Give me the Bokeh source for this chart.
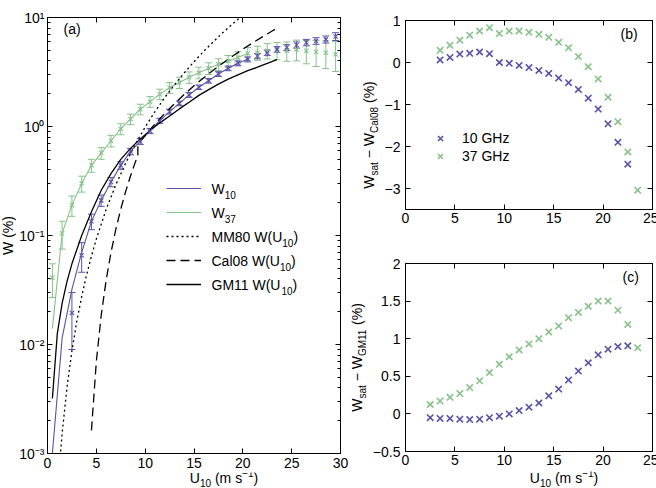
import math
from bokeh.plotting import figure
from bokeh.layouts import row, column
from bokeh.models import (ColumnDataSource, Whisker, TeeHead, Label, Legend, LegendItem,
                          FixedTicker, LinearAxis, LogAxis, Range1d)
from bokeh.embed import file_html
from bokeh.resources import INLINE

# ---------------- data ----------------
# panel (a): binned whitecap fraction W (%) vs U10
w10_x = [2.5, 3.5, 4.5, 5.5, 6.5, 7.5, 8.5, 9.5, 10.5, 11.5, 12.5, 13.5, 14.5, 15.5,
         16.5, 17.5, 18.5, 19.5, 20.5, 21.5, 22.5, 23.5, 24.5, 25.5, 26.5, 27.5, 28.5, 29.5]
w10_y = [0.0195, 0.066, 0.135, 0.21, 0.31, 0.44, 0.59, 0.73, 0.91, 1.13, 1.37, 1.63, 1.95, 2.29,
         2.63, 3.03, 3.42, 3.8, 4.13, 4.43, 4.75, 5.1, 5.3, 5.6, 5.9, 6.1, 6.3, 6.7]
w10_err = [0.0105, 0.02, 0.022, 0.025, 0.03, 0.035, 0.04, 0.045, 0.05, 0.06, 0.07, 0.08, 0.1, 0.11,
           0.13, 0.15, 0.17, 0.2, 0.22, 0.25, 0.28, 0.3, 0.33, 0.36, 0.4, 0.43, 0.47, 0.55]

w37_x = [0.5, 1.5, 2.5, 3.5, 4.5, 5.5, 6.5, 7.5, 8.5, 9.5, 10.5, 11.5, 12.5, 13.5, 14.5,
         15.5, 16.5, 17.5, 18.5, 19.5, 20.5, 21.5, 22.5, 23.5, 24.5, 25.5, 26.5, 27.5, 28.5, 29.5]
w37_y = [0.041, 0.105, 0.19, 0.3, 0.44, 0.57, 0.74, 0.95, 1.17, 1.44, 1.69, 1.98, 2.27, 2.53, 2.83,
         3.12, 3.42, 3.72, 3.98, 4.3, 4.68, 4.75, 4.96, 5.0, 4.96, 5.1, 4.96, 4.85, 4.75, 4.6]
w37_err = [0.014, 0.03, 0.04, 0.05, 0.06, 0.07, 0.09, 0.11, 0.13, 0.16, 0.19, 0.22, 0.26, 0.3, 0.34,
           0.38, 0.42, 0.46, 0.5, 0.55, 0.62, 0.7, 0.8, 0.9, 1.0, 1.1, 1.2, 1.3, 1.35, 1.4]

w10_line_x = [0.5, 1.5, 2.5, 3.5, 4.5, 5.5, 6.5, 7.5, 8.5, 9.5, 10.5, 11.5, 12.5, 13.5, 14.5,
              15.5, 16.5, 17.5, 18.5, 19.5, 20.5]
w10_line_y = [0.001, 0.0115, 0.032, 0.07, 0.135, 0.21, 0.31, 0.44, 0.59, 0.73, 0.91, 1.13, 1.37,
              1.63, 1.95, 2.29, 2.63, 3.03, 3.42, 3.8, 4.13]
w37_line_x = [0.5, 1.5, 2.5, 3.5, 4.5, 5.5, 6.5, 7.5, 8.5, 9.5, 10.5, 11.5, 12.5, 13.5, 14.5,
              15.5, 16.5, 17.5, 18.5, 19.5, 20.5]
w37_line_y = [0.014, 0.105, 0.19, 0.3, 0.44, 0.57, 0.74, 0.95, 1.17, 1.44, 1.69, 1.98, 2.27, 2.53,
              2.83, 3.12, 3.42, 3.72, 3.98, 4.3, 4.68]

mm80_x = [1.3, 1.5, 2, 2.5, 3, 3.5, 4, 4.5, 5, 6, 7, 8, 9, 10, 11, 12, 13, 14, 15, 16, 17, 18, 19, 20]
mm80_y = [0.00094, 0.00153, 0.00408, 0.00874, 0.0163, 0.0275, 0.0434, 0.0648, 0.0929, 0.173,
          0.292, 0.461, 0.690, 0.987, 1.367, 1.839, 2.413, 3.105, 3.93, 4.90, 6.02, 7.33, 8.80, 10.49]

cal08_x = [4.5, 5, 5.5, 6, 6.5, 7, 7.5, 8, 8.5, 9, 9.25, 9.25, 10, 11, 12, 13, 14, 15, 16, 17,
           18, 19, 20, 21, 22, 23, 23.5]
cal08_y = [0.00163, 0.00699, 0.01855, 0.0387, 0.0698, 0.1143, 0.1745, 0.2528, 0.3517, 0.4734,
           0.544, 0.683, 0.829, 1.054, 1.317, 1.620, 1.967, 2.360, 2.802, 3.296, 3.844, 4.451,
           5.118, 5.849, 6.647, 7.513, 7.973]

gm11_x = [0.5, 1.0, 1.5, 2.0, 2.5, 3.5, 4.5, 5.5, 6.5, 7.5, 8.5, 9.5, 10.5, 11.5, 12.5, 13.5,
          14.5, 15.5, 16.5, 17.5, 18.5, 19.5, 20.5, 21.5, 22.5, 23.5]
gm11_y = [0.0032, 0.0125, 0.024, 0.038, 0.055, 0.1, 0.165, 0.26, 0.37, 0.5, 0.63, 0.77, 0.92,
          1.08, 1.25, 1.45, 1.67, 1.93, 2.18, 2.45, 2.72, 2.98, 3.25, 3.5, 3.8, 4.1]

# panel (b): W_sat - W_Cal08
b10_x = [3.5, 4.5, 5.5, 6.5, 7.5, 8.5, 9.5, 10.5, 11.5, 12.5, 13.5, 14.5, 15.5, 16.5, 17.5,
         18.5, 19.5, 20.5, 21.5, 22.5]
b10_y = [0.06, 0.12, 0.2, 0.22, 0.25, 0.21, 0.0, -0.02, -0.07, -0.12, -0.19, -0.26, -0.37,
         -0.48, -0.64, -0.85, -1.11, -1.46, -1.9, -2.42]
b37_x = [3.5, 4.5, 5.5, 6.5, 7.5, 8.5, 9.5, 10.5, 11.5, 12.5, 13.5, 14.5, 15.5, 16.5, 17.5,
         18.5, 19.5, 20.5, 21.5, 22.5, 23.5]
b37_y = [0.29, 0.41, 0.53, 0.65, 0.75, 0.83, 0.69, 0.75, 0.75, 0.72, 0.67, 0.6, 0.48, 0.35,
         0.14, -0.1, -0.39, -0.83, -1.41, -2.13, -3.04]

# panel (c): W_sat - W_GM11
c10_x = [2.5, 3.5, 4.5, 5.5, 6.5, 7.5, 8.5, 9.5, 10.5, 11.5, 12.5, 13.5, 14.5, 15.5, 16.5,
         17.5, 18.5, 19.5, 20.5, 21.5, 22.5]
c10_y = [-0.05, -0.06, -0.06, -0.07, -0.075, -0.07, -0.05, -0.03, 0.0, 0.044, 0.09, 0.145,
         0.24, 0.33, 0.45, 0.57, 0.68, 0.785, 0.86, 0.895, 0.905]
c37_x = [2.5, 3.5, 4.5, 5.5, 6.5, 7.5, 8.5, 9.5, 10.5, 11.5, 12.5, 13.5, 14.5, 15.5, 16.5,
         17.5, 18.5, 19.5, 20.5, 21.5, 22.5, 23.5]
c37_y = [0.125, 0.17, 0.22, 0.27, 0.35, 0.44, 0.55, 0.66, 0.76, 0.85, 0.93, 1.0, 1.09, 1.17,
         1.28, 1.35, 1.43, 1.5, 1.5, 1.38, 1.19, 0.88]

# ---------------- style ----------------
FONT = "Liberation Sans"
BLUE = "#5a52a8"
GREEN = "#86c289"
FS = 14
SUB = 10

ARIAL = {' ': 278, '(': 333, ')': 333, '%': 889, '\u2212': 584, '-': 333, 'W': 944, 'U': 722,
         'C': 722, 'G': 778, 'M': 833, 'a': 556, 'l': 222, 's': 500, 't': 278, 'm': 833}


def tw(s, size):
    return sum(ARIAL.get(ch, 556) for ch in s) / 1000.0 * size


def rich(fig, segs, x, y, vertical=False, center=True):
    """Place text pieces; (x, y) gives the alphabetic baseline (screen px, frame-relative)."""
    total = sum(tw(t, sz) for t, sz, sh in segs)
    pos = -total / 2.0 if center else 0.0
    for t, sz, sh in segs:
        lead = len(t) - len(t.lstrip(' '))
        off = pos + lead * 0.278 * sz
        txt = t.strip()
        mid = sh + 0.35 * sz
        if vertical:
            lab = Label(x=x - mid, y=y + off, angle=math.pi / 2, text=txt)
        else:
            lab = Label(x=x + off, y=y + mid, text=txt)
        lab.x_units = "screen"
        lab.y_units = "screen"
        lab.text_font = FONT
        lab.text_font_size = f"{sz}px"
        lab.text_color = "black"
        lab.text_align = "left"
        lab.text_baseline = "middle"
        fig.add_layout(lab)
        pos += tw(t, sz)


def strip(w, h):
    s = figure(frame_width=w, frame_height=h, min_border=0, x_axis_location=None,
               y_axis_location=None, toolbar_location=None, output_backend="svg")
    s.outline_line_color = None
    s.grid.visible = False
    s.background_fill_color = "white"
    s.border_fill_color = "white"
    return s


def style_axis(ax, ticks, minor=None, labels=None, standoff=4):
    ax.ticker = FixedTicker(ticks=ticks, minor_ticks=minor or [])
    ax.major_tick_in = 5
    ax.major_tick_out = 0
    ax.minor_tick_in = 3 if minor else 0
    ax.minor_tick_out = 0
    ax.axis_line_color = "black"
    ax.major_tick_line_color = "black"
    ax.minor_tick_line_color = "black"
    ax.major_label_text_font = FONT
    ax.major_label_text_font_size = f"{FS}px"
    ax.major_label_text_color = "black"
    ax.major_label_standoff = standoff
    if labels is not None:
        ax.major_label_overrides = labels


def blank(ticks):
    return {t: "" for t in ticks}


U10_SEGS = [("U", FS, 0), ("10", SUB, -4), (" (m s", FS, 0), ("\u22121", SUB, 6), (")", FS, 0)]

# ---------------- panel (a) ----------------
pa = figure(frame_width=293, frame_height=436, x_range=Range1d(0, 30), y_range=Range1d(1e-3, 10),
            y_axis_type="log", output_backend="svg", toolbar_location=None,
            min_border_left=30, min_border_right=11, min_border_top=17, min_border_bottom=19)
pa.grid.visible = False

ya_ticks = [0.001, 0.01, 0.1, 1, 10]
ya_minor = [k * 10.0 ** e for e in range(-3, 1) for k in range(2, 10)]
ya_labels = {0.001: "10\u207b\u00b3", 0.01: "10\u207b\u00b2", 0.1: "10\u207b\u00b9",
             1: "10\u2070", 10: "10\u00b9"}
xa_ticks = [0, 5, 10, 15, 20, 25, 30]
style_axis(pa.yaxis[0], ya_ticks, ya_minor, ya_labels, standoff=3)
style_axis(pa.xaxis[0], xa_ticks, standoff=4)
ra = LogAxis()
style_axis(ra, ya_ticks, ya_minor, blank(ya_ticks), standoff=0)
pa.add_layout(ra, "right")
ta = LinearAxis()
style_axis(ta, xa_ticks, None, blank(xa_ticks), standoff=0)
pa.add_layout(ta, "above")

r_w10 = pa.line(w10_line_x, w10_line_y, line_color=BLUE, line_width=1.1)
r_w37 = pa.line(w37_line_x, w37_line_y, line_color=GREEN, line_width=1.1)
r_mm = pa.line(mm80_x, mm80_y, line_color="black", line_width=1.3, line_dash="2 3")
r_cal = pa.line(cal08_x, cal08_y, line_color="black", line_width=1.3, line_dash="9 5")
r_gm = pa.line(gm11_x, gm11_y, line_color="black", line_width=1.3)

for xs, ys, es, col in [(w37_x, w37_y, w37_err, GREEN), (w10_x, w10_y, w10_err, BLUE)]:
    src = ColumnDataSource(dict(x=xs, lower=[v - e for v, e in zip(ys, es)],
                                upper=[v + e for v, e in zip(ys, es)]))
    wk = Whisker(source=src, base="x", lower="lower", upper="upper", dimension="height",
                 line_color=col, line_width=1,
                 upper_head=TeeHead(size=7, line_color=col, line_width=1),
                 lower_head=TeeHead(size=7, line_color=col, line_width=1))
    pa.add_layout(wk)
    pa.scatter(xs, ys, marker="x", size=6, line_width=1.1, color=col)

leg_a = Legend(items=[LegendItem(label=" ", renderers=[r_w10]),
                      LegendItem(label=" ", renderers=[r_w37]),
                      LegendItem(label=" ", renderers=[r_mm]),
                      LegendItem(label=" ", renderers=[r_cal]),
                      LegendItem(label=" ", renderers=[r_gm])],
               location=(119, 157))
pa.add_layout(leg_a)
# legend texts (with real subscripts)
leg_texts = [[("W", FS, 0), ("10", SUB, -5)],
             [("W", FS, 0), ("37", SUB, -5)],
             [("MM80 W(U", FS, 0), ("10", SUB, -5), (")", FS, 0)],
             [("Cal08 W(U", FS, 0), ("10", SUB, -5), (")", FS, 0)],
             [("GM11 W(U", FS, 0), ("10", SUB, -5), (")", FS, 0)]]
for i, segs in enumerate(leg_texts):
    rich(pa, segs, 164, 260 - 24 * i, center=False)

rich(pa, [("(a)", FS, 0)], 16, 420, center=False)

sa_y = strip(16, 488)
rich(sa_y, [("W (%)", FS, 0)], 12, 253, vertical=True)
sa_x = strip(334, 16)
rich(sa_x, U10_SEGS, 30 + 146.5, 6)

left = row(sa_y, column(pa, sa_x))

# ---------------- panel (b) ----------------
pb = figure(frame_width=247, frame_height=189, x_range=Range1d(0, 25), y_range=Range1d(-3.5, 1),
            output_backend="svg", toolbar_location=None,
            min_border_left=23, min_border_right=6, min_border_top=20, min_border_bottom=31)
pb.grid.visible = False
xb_ticks = [0, 5, 10, 15, 20, 25]
yb_ticks = [-3, -2, -1, 0, 1]
yb_labels = {-3: "\u22123", -2: "\u22122", -1: "\u22121", 0: "0", 1: "1"}
style_axis(pb.xaxis[0], xb_ticks, standoff=3)
style_axis(pb.yaxis[0], yb_ticks, None, yb_labels, standoff=5)
ax = LinearAxis(); style_axis(ax, yb_ticks, None, blank(yb_ticks), standoff=0); pb.add_layout(ax, "right")
ax = LinearAxis(); style_axis(ax, xb_ticks, None, blank(xb_ticks), standoff=0); pb.add_layout(ax, "above")
rb10 = pb.scatter(b10_x, b10_y, marker="x", size=9, line_width=1.6, color=BLUE)
rb37 = pb.scatter(b37_x, b37_y, marker="x", size=9, line_width=1.6, color=GREEN)
leg_b = Legend(items=[LegendItem(label="10 GHz", renderers=[rb10]),
                      LegendItem(label="37 GHz", renderers=[rb37])], location=(25, 44))
pb.add_layout(leg_b)
rich(pb, [("(b)", FS, 0)], 215, 171, center=False)

sb = strip(30, 240)
rich(sb, [("W", FS, 0), ("sat", SUB, -4), (" \u2212 W", FS, 0), ("Cal08", SUB, -4), (" (%)", FS, 0)],
     22, 125.5, vertical=True)

# ---------------- panel (c) ----------------
pc = figure(frame_width=247, frame_height=188, x_range=Range1d(0, 25), y_range=Range1d(-0.5, 2),
            output_backend="svg", toolbar_location=None,
            min_border_left=35, min_border_right=6, min_border_top=23, min_border_bottom=20)
pc.grid.visible = False
yc_ticks = [-0.5, 0, 0.5, 1, 1.5, 2]
yc_labels = {-0.5: "\u22120.5", 0: "0", 0.5: "0.5", 1: "1", 1.5: "1.5", 2: "2"}
style_axis(pc.xaxis[0], xb_ticks, standoff=3)
style_axis(pc.yaxis[0], yc_ticks, None, yc_labels, standoff=5)
ax = LinearAxis(); style_axis(ax, yc_ticks, None, blank(yc_ticks), standoff=0); pc.add_layout(ax, "right")
ax = LinearAxis(); style_axis(ax, xb_ticks, None, blank(xb_ticks), standoff=0); pc.add_layout(ax, "above")
pc.scatter(c10_x, c10_y, marker="x", size=9, line_width=1.6, color=BLUE)
pc.scatter(c37_x, c37_y, marker="x", size=9, line_width=1.6, color=GREEN)
rich(pc, [("(c)", FS, 0)], 217, 170, center=False)

sc = strip(18, 248)
rich(sc, [("W", FS, 0), ("sat", SUB, -4), (" \u2212 W", FS, 0), ("GM11", SUB, -4), (" (%)", FS, 0)],
     10, 131, vertical=True)
sc_x = strip(288, 17)
rich(sc_x, U10_SEGS, 35 + 123.5, 6)

for lg, gw, gh, st in [(leg_a, 35, 24, 10), (leg_b, 20, 18, 12)]:
    lg.border_line_alpha = 0
    lg.background_fill_alpha = 0
    lg.padding = 0
    lg.margin = 0
    lg.spacing = 0
    lg.glyph_width = gw
    lg.glyph_height = gh
    lg.label_height = gh
    lg.label_standoff = st
    lg.label_text_font = FONT
    lg.label_text_font_size = f"{FS}px"
    lg.label_text_color = "black"

for f in (pa, pb, pc):
    f.background_fill_color = "white"
    f.border_fill_color = "white"
    f.outline_line_color = "black"

right = column(row(sb, pb), row(sc, column(pc, sc_x)))
layout = row(left, right)
open("out.html", "w").write(file_html(layout, INLINE))
